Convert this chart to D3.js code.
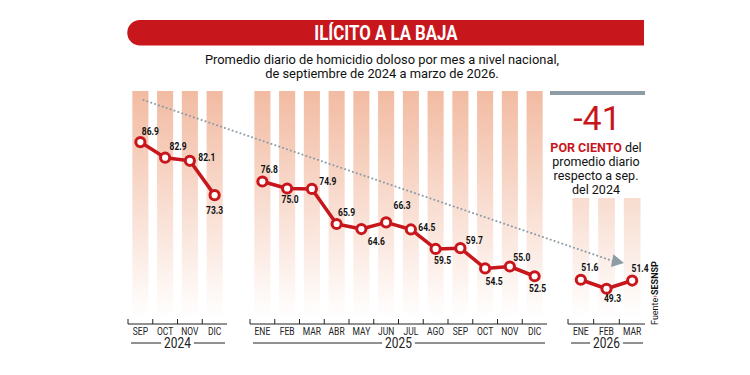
<!DOCTYPE html>
<html>
<head>
<meta charset="utf-8">
<script src="https://cdn.jsdelivr.net/npm/d3@7"></script>
<style>
    body { margin: 0; background: #fff; }
    svg { display: block; }
</style>
</head>
<body>
<svg id="chart" width="750" height="375"></svg>
<script>
const months2024 = ['SEP', 'OCT', 'NOV', 'DIC']
const values2024 = [86.9, 82.9, 82.1, 73.3]
const months2025 = ['ENE', 'FEB', 'MAR', 'ABR', 'MAY', 'JUN', 'JUL', 'AGO', 'SEP', 'OCT', 'NOV', 'DIC']
const values2025 = [76.8, 75.0, 74.9, 65.9, 64.6, 66.3, 64.5, 59.5, 59.7, 54.5, 55.0, 52.5]
const months2026 = ['ENE', 'FEB', 'MAR']
const values2026 = [51.6, 49.3, 51.4]
const years = ['2024', '2025', '2026']
const changePct = -41

const title = 'ILÍCITO A LA BAJA'
const subtitle = ['Promedio diario de homicidio doloso por mes a nivel nacional,', 'de septiembre de 2024 a marzo de 2026.']
const noteLines = ['promedio diario', 'respecto a sep.', 'del 2024']

// label placement around each point (dx, dy), one list per panel
const labelOffsets = [
    [[10, -11], [13, -11], [17, -3], [0, 15]],
    [[7, -12], [3, 11], [16, -7], [10, -11], [15, 12], [16, -17], [16, -2], [7, 12], [14, -8], [9, 13], [12, -9], [3, 12]],
    [[9, -12], [6, 10], [8, -12]]
]

const RED = '#c8161d'
const FONT = 'Roboto, sans-serif'

// squeeze text horizontally, the original uses a condensed face
function condense(sel, k) {
    sel.each(function () {
        const w = this.getComputedTextLength()
        d3.select(this)
            .attr('textLength', w * k)
            .attr('lengthAdjust', 'spacingAndGlyphs')
    })
}

const svg = d3.select('#chart')

const panels = [
    { months: months2024, values: values2024, year: years[0], range: [128, 227], barTop: null, color: '#f2bba2' },
    { months: months2025, values: values2025, year: years[1], range: [250, 547], barTop: null, color: '#f2bba2' },
    { months: months2026, values: values2026, year: years[2], range: [568, 645], barTop: 198, color: '#f8dccf' }
]

const y = d3.scaleLinear().domain([40, 100]).range([325, 91])
const axisY = 324

const defs = svg.append('defs')
panels.forEach((p, i) => {
    const grad = defs
        .append('linearGradient')
        .attr('id', `fade${i}`)
        .attr('x1', 0)
        .attr('x2', 0)
        .attr('y1', 0)
        .attr('y2', 1)
    grad.append('stop').attr('offset', '0%').attr('stop-color', p.color)
    grad.append('stop').attr('offset', '100%').attr('stop-color', '#fff')
})

// title banner
svg.append('path')
    .attr('d', 'M140,20H644V45.5H140A12.75,12.75 0 0 1 140,20Z')
    .attr('fill', RED)

svg.append('text')
    .attr('x', 386)
    .attr('y', 40)
    .attr('text-anchor', 'middle')
    .attr('font-family', FONT)
    .attr('font-weight', 'bold')
    .attr('font-size', 20.5)
    .attr('fill', '#fff')
    .text(title)
    .call(condense, 0.82)

svg.append('g')
    .attr('font-family', FONT)
    .attr('font-size', 13)
    .attr('fill', '#111')
    .attr('text-anchor', 'middle')
    .selectAll('text')
    .data(subtitle)
    .join('text')
    .attr('x', 382)
    .attr('y', (d, i) => 64 + i * 13.5)
    .text((d) => d)
    .call(condense, 0.99)

panels.forEach((p, pi) => {
    const x = d3
        .scaleBand()
        .domain(p.months)
        .range(p.range)
        .paddingInner(0.35)
        .paddingOuter(0.175)
    p.x = x
    const step = x.step()
    const g = svg.append('g')

    // background bars
    g.selectAll('rect')
        .data(p.months)
        .join('rect')
        .attr('x', (d) => x(d))
        .attr('y', p.barTop === null ? y(100) : p.barTop)
        .attr('width', x.bandwidth())
        .attr('height', (p.barTop === null ? 318 - y(100) : 318 - p.barTop))
        .attr('fill', `url(#fade${pi})`)

    // axis
    const ax = g.append('g').attr('stroke', '#222').attr('stroke-width', 1)
    ax.append('line')
        .attr('x1', p.range[0])
        .attr('x2', p.range[1])
        .attr('y1', axisY)
        .attr('y2', axisY)
    ax.selectAll('.tick')
        .data(p.months)
        .join('line')
        .attr('class', 'tick')
        .attr('x1', (d) => x(d) + x.bandwidth() / 2 - step / 2)
        .attr('x2', (d) => x(d) + x.bandwidth() / 2 - step / 2)
        .attr('y1', axisY - 5)
        .attr('y2', axisY)

    g.append('g')
        .attr('font-family', FONT)
        .attr('font-size', 10)
        .attr('fill', '#222')
        .attr('text-anchor', 'middle')
        .selectAll('text')
        .data(p.months)
        .join('text')
        .attr('x', (d) => x(d) + x.bandwidth() / 2)
        .attr('y', 334.5)
        .text((d) => d)
        .call(condense, 0.85)

    // year label with rule
    const mid = (p.range[0] + p.range[1]) / 2
    const yr = g.append('text')
        .attr('x', mid)
        .attr('y', 348)
        .attr('text-anchor', 'middle')
        .attr('font-family', FONT)
        .attr('font-size', 14)
        .attr('fill', '#222')
        .text(p.year)
    const yw = yr.node().getComputedTextLength()
    yr.call(condense, 0.85)
    const half = yw * 0.85 / 2 + 3
    g.append('line')
        .attr('x1', p.range[0] + 3)
        .attr('x2', mid - half)
        .attr('y1', 343)
        .attr('y2', 343)
        .attr('stroke', '#222')
    g.append('line')
        .attr('x1', mid + half)
        .attr('x2', p.range[1] - 2)
        .attr('y1', 343)
        .attr('y2', 343)
        .attr('stroke', '#222')
})

// dotted trend arrow
const p0 = [panels[0].x('SEP') + panels[0].x.bandwidth() / 2 + 3, 100]
const xMar = panels[2].x('MAR') + panels[2].x.bandwidth() / 2
const slope = 0.343
const p1 = [xMar - 19, p0[1] + (xMar - 19 - p0[0]) * slope]
svg.append('line')
    .attr('x1', p0[0])
    .attr('y1', p0[1])
    .attr('x2', p1[0])
    .attr('y2', p1[1])
    .attr('stroke', '#8e9ca6')
    .attr('stroke-width', 2)
    .attr('stroke-linecap', 'round')
    .attr('stroke-dasharray', '0.1,4')
const ang = Math.atan(slope) * 180 / Math.PI
svg.append('path')
    .attr('d', 'M0,-6.5L12,0L0,6.5Z')
    .attr('transform', `translate(${p1[0] - 1},${p1[1] - 0.5}) rotate(${ang - 8})`)
    .attr('fill', '#8e9ca6')

// lines, points and labels
panels.forEach((p, pi) => {
    const x = p.x
    const cx = (d, i) => x(p.months[i]) + x.bandwidth() / 2
    const line = d3
        .line()
        .x((d, i) => cx(d, i))
        .y((d) => y(d))
    const g = svg.append('g')
    g.append('path')
        .datum(p.values)
        .attr('d', line)
        .attr('fill', 'none')
        .attr('stroke', RED)
        .attr('stroke-width', 3.5)
        .attr('stroke-linejoin', 'round')
    g.selectAll('circle')
        .data(p.values)
        .join('circle')
        .attr('cx', cx)
        .attr('cy', (d) => y(d))
        .attr('r', 4.6)
        .attr('fill', '#fff')
        .attr('stroke', RED)
        .attr('stroke-width', 3)
    g.selectAll('text')
        .data(p.values)
        .join('text')
        .attr('x', (d, i) => cx(d, i) + labelOffsets[pi][i][0])
        .attr('y', (d, i) => y(d) + labelOffsets[pi][i][1])
        .attr('dy', '0.35em')
        .attr('text-anchor', 'middle')
        .attr('font-family', FONT)
        .attr('font-weight', 'bold')
        .attr('font-size', 10)
        .attr('fill', '#111')
        .text((d) => d3.format('.1f')(d))
        .call(condense, 0.85)
})

// right note
svg.append('rect')
    .attr('x', 550)
    .attr('y', 91)
    .attr('width', 95)
    .attr('height', 4)
    .attr('fill', '#8e9ca6')

svg.append('text')
    .attr('x', 597)
    .attr('y', 130)
    .attr('text-anchor', 'middle')
    .attr('font-family', FONT)
    .attr('font-size', 34)
    .attr('fill', RED)
    .text(`-${Math.abs(changePct)}`)

const note = svg.append('g')
    .attr('font-family', FONT)
    .attr('font-size', 12.5)
    .attr('fill', '#111')
    .attr('text-anchor', 'middle')
const first = note.append('text').attr('x', 596).attr('y', 152)
first.append('tspan').attr('font-weight', 'bold').attr('fill', RED).text('POR CIENTO')
first.append('tspan').text(' del')
note.selectAll('.l')
    .data(noteLines)
    .join('text')
    .attr('class', 'l')
    .attr('x', 596)
    .attr('y', (d, i) => 166 + i * 13.8)
    .text((d) => d)

// source
const src = svg.append('text')
    .attr('transform', 'translate(658,325) rotate(-90)')
    .attr('font-family', FONT)
    .attr('font-size', 9)
    .attr('fill', '#111')
src.append('tspan').text('Fuente')
src.append('tspan').attr('fill', RED).text('›')
src.append('tspan').attr('font-weight', 'bold').text('SESNSP')
</script>
</body>
</html>
